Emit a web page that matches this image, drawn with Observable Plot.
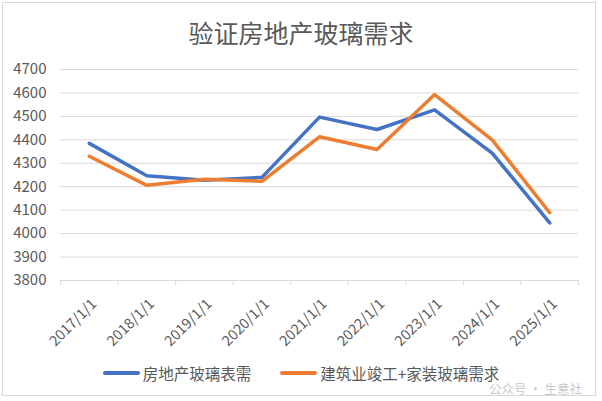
<!DOCTYPE html>
<html>
<head>
<meta charset="utf-8">
<script src="https://cdn.jsdelivr.net/npm/d3@7"></script>
<script src="https://cdn.jsdelivr.net/npm/@observablehq/plot@0.6"></script>
<style>
  html, body { margin: 0; padding: 0; background: #fff; }
  #wrap { position: relative; width: 602px; height: 401px; overflow: hidden; font-family: "Noto Sans CJK SC", "Liberation Sans", sans-serif; color: #595959; }
  #frame { position: absolute; left: 2px; top: 2px; width: 594px; height: 394px; border: 1px solid #d9d9d9; box-sizing: border-box; }
  #title { position: absolute; left: 0; width: 602px; top: 15px; text-align: center; font-size: 25px; line-height: 34px; color: #595959; }
  #chart { position: absolute; left: 0; top: 54px; }
  #legend { position: absolute; left: 0; width: 602px; top: 364px; display: flex; justify-content: center; align-items: center; gap: 29px; font-size: 15.5px; line-height: 18px; color: #595959; }
  .item { display: flex; align-items: center; gap: 3px; }
  .sw { width: 37px; height: 4px; border-radius: 2px; }
  #wm { position: absolute; right: 20px; top: 382px; font-size: 12.5px; line-height: 14px; color: rgba(160,160,160,0.6); }
</style>
</head>
<body>
<div id="wrap">
  <div id="frame"></div>
  <div id="title"></div>
  <div id="wm">公众号 · 生意社</div>
  <div id="chart"></div>
  <div id="legend"></div>
</div>
<script>
const title = "验证房地产玻璃需求";
const categories = ["2017/1/1","2018/1/1","2019/1/1","2020/1/1","2021/1/1","2022/1/1","2023/1/1","2024/1/1","2025/1/1"];
const seriesNames = ["房地产玻璃表需", "建筑业竣工+家装玻璃需求"];
const seriesColors = ["#4472C4", "#ED7D31"];
const realEstate = [4385, 4247, 4228, 4240, 4497, 4444, 4528, 4343, 4046];
const construction = [4330, 4206, 4232, 4223, 4413, 4359, 4593, 4400, 4089];
const yTicks = [3800, 3900, 4000, 4100, 4200, 4300, 4400, 4500, 4600, 4700];

document.getElementById("title").textContent = title;

const rows = [];
[realEstate, construction].forEach((vals, s) => {
  vals.forEach((v, i) => rows.push({series: seriesNames[s], i, value: v}));
});
const boundaries = d3.range(categories.length + 1).map(k => k - 0.5);

const chart = Plot.plot({
  width: 602,
  height: 300,
  marginTop: 15,
  marginBottom: 74,
  marginLeft: 60,
  marginRight: 24,
  style: {background: "transparent", fontFamily: "'Noto Sans CJK SC', 'Liberation Sans', sans-serif", color: "#595959"},
  x: {type: "linear", domain: [-0.5, categories.length - 0.5]},
  y: {domain: [yTicks[0], yTicks[yTicks.length - 1]]},
  color: {domain: seriesNames, range: seriesColors},
  marks: [
    Plot.ruleY(yTicks, {stroke: "#d9d9d9", strokeWidth: 1}),
    Plot.axisX(boundaries, {tickSize: 5, tickFormat: () => "", stroke: "#d9d9d9", label: null}),
    Plot.axisY(yTicks, {tickSize: 0, tickPadding: 14, fontSize: 15, fill: "#595959", label: null, tickFormat: d => String(d)}),
    Plot.text(categories, {x: (d, i) => i, frameAnchor: "bottom", text: d => d, rotate: -45, textAnchor: "end", lineAnchor: "middle", dx: 5, dy: 21, fontSize: 14.5, fill: "#595959"}),
    Plot.line(rows, {x: "i", y: "value", z: "series", stroke: "series", strokeWidth: 3.5, strokeLinejoin: "round", strokeLinecap: "round"})
  ]
});
document.getElementById("chart").appendChild(chart);

const legend = document.getElementById("legend");
seriesNames.forEach((name, s) => {
  const item = document.createElement("div");
  item.className = "item";
  const sw = document.createElement("span");
  sw.className = "sw";
  sw.style.background = seriesColors[s];
  const label = document.createElement("span");
  label.textContent = name;
  item.appendChild(sw);
  item.appendChild(label);
  legend.appendChild(item);
});
</script>
</body>
</html>
